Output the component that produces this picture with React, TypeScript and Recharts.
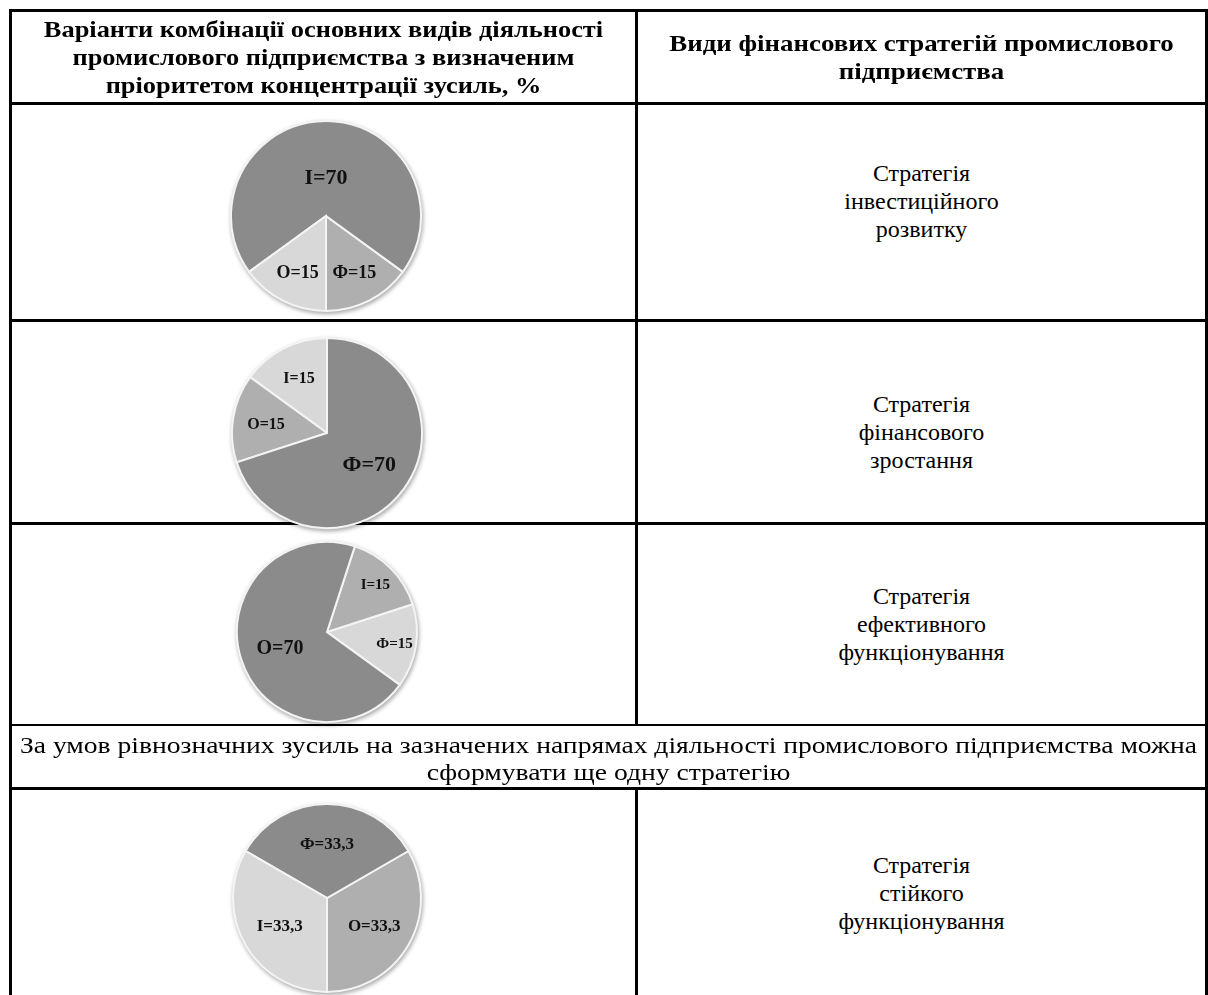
import React from 'react';
import { PieChart, Pie, Cell } from 'recharts';

// ---- data ----
const headerLeft = [
  'Варіанти комбінації основних видів діяльності',
  'промислового підприємства з визначеним',
  'пріоритетом концентрації зусиль, %',
];
const headerRight = ['Види фінансових стратегій промислового', 'підприємства'];

const pie1Names = ['Ф', 'І', 'О'];
const pie1Values = [15, 70, 15];
const pie2Names = ['І', 'О', 'Ф'];
const pie2Values = [15, 15, 70];
const pie3Names = ['Ф', 'І', 'О'];
const pie3Values = [15, 15, 70];
const pie4Names = ['О', 'Ф', 'І'];
const pie4Values = [33.3, 33.3, 33.3];

const strategy1 = ['Стратегія', 'інвестиційного', 'розвитку'];
const strategy2 = ['Стратегія', 'фінансового', 'зростання'];
const strategy3 = ['Стратегія', 'ефективного', 'функціонування'];
const strategy4 = ['Стратегія', 'стійкого', 'функціонування'];
const mergedText = [
  'За умов рівнозначних зусиль на зазначених напрямах діяльності промислового підприємства можна',
  'сформувати ще одну стратегію',
];

const toData = (names: string[], values: number[]) =>
  names.map((n, i) => ({ name: n, value: values[i] }));

// ---- styles ----
const SERIF = '"Liberation Serif", "Times New Roman", serif';
const DARK = '#8b8b8b';
const MID = '#afafaf';
const LIGHT = '#d8d8d8';

const pie1Colors = [MID, DARK, LIGHT];
const pie2Colors = [LIGHT, MID, DARK];
const pie3Colors = [LIGHT, MID, DARK];
const pie4Colors = [MID, DARK, LIGHT];

const Rule = ({ x, y, w, h }: { x: number; y: number; w: number; h: number }) => (
  <div style={{ position: 'absolute', left: x, top: y, width: w, height: h, background: '#000' }} />
);

const TextBlock = ({
  lines, left, width, centerY, bold, size, lh, sx = 1,
}: { lines: string[]; left: number; width: number; centerY: number; bold?: boolean; size: number; lh: number; sx?: number }) => (
  <div
    style={{
      position: 'absolute', left, width, top: centerY - (lines.length * lh) / 2,
      textAlign: 'center', fontFamily: SERIF, fontWeight: bold ? 700 : 400,
      fontSize: size, lineHeight: `${lh}px`, color: '#000', whiteSpace: 'nowrap',
      transform: `scaleX(${sx})`, transformOrigin: 'center',
    }}
  >
    {lines.map((l, i) => (<div key={i}>{l}</div>))}
  </div>
);

const RAD = Math.PI / 180;

function makeLabel(bigFactor: number, smallFactor: number, bigSize: number, smallSize: number) {
  return (props: any) => {
    const { cx, cy, midAngle, outerRadius, name, value, percent } = props;
    const big = percent > 0.5;
    const f = big ? bigFactor : smallFactor;
    const r = outerRadius * f;
    const x = cx + r * Math.cos(-midAngle * RAD);
    const y = cy + r * Math.sin(-midAngle * RAD);
    const txt = `${name}=${String(value).replace('.', ',')}`;
    return (
      <text x={x} y={y} textAnchor="middle" dominantBaseline="central"
        fontFamily={SERIF} fontWeight={700} fontSize={big ? bigSize : smallSize} fill="#111">
        {txt}
      </text>
    );
  };
}

const ChartPie = ({
  names, values, colors, cx, cy, r, start, label,
}: { names: string[]; values: number[]; colors: string[]; cx: number; cy: number; r: number; start: number; label: any }) => {
  const S = 230;
  return (
    <div style={{ position: 'absolute', left: cx - S / 2, top: cy - S / 2, width: S, height: S, filter: 'drop-shadow(1px 2px 2px rgba(0,0,0,0.35))' }}>
      <PieChart width={S} height={S}>
        <Pie
          data={toData(names, values)}
          dataKey="value"
          nameKey="name"
          cx={S / 2}
          cy={S / 2}
          outerRadius={r}
          startAngle={start}
          endAngle={start + 360}
          stroke="#f4f4f4"
          strokeWidth={2}
          label={label}
          labelLine={false}
          isAnimationActive={false}
        >
          {values.map((_, i) => (<Cell key={i} fill={colors[i]} />))}
        </Pie>
      </PieChart>
    </div>
  );
};

export default function App() {
  const L = 9, R = 1205, T = 9, MIDX = 635;
  return (
    <div style={{ position: 'absolute', left: 0, top: 0, width: 1208, height: 995, overflow: 'hidden', background: '#fff' }}>
      {/* borders */}
      <Rule x={L} y={T} w={1208 - L} h={3} />
      <Rule x={L} y={T} w={3} h={995 - T} />
      <Rule x={R} y={T} w={3} h={995 - T} />
      <Rule x={MIDX} y={T} w={3} h={724 - T} />
      <Rule x={MIDX} y={787} w={3} h={995 - 787} />
      <Rule x={L} y={102} w={1208 - L} h={3} />
      <Rule x={L} y={319} w={1208 - L} h={3} />
      <Rule x={L} y={522} w={1208 - L} h={3} />
      <Rule x={L} y={724} w={1208 - L} h={2} />
      <Rule x={L} y={787} w={1208 - L} h={3} />

      <TextBlock lines={headerLeft} left={12} width={623} centerY={57} bold size={24} lh={28} sx={1.1} />
      <TextBlock lines={headerRight} left={638} width={567} centerY={57} bold size={24} lh={28} sx={1.12} />

      <ChartPie names={pie1Names} values={pie1Values} colors={pie1Colors} cx={321} cy={211} r={95} start={-90}
        label={makeLabel(0.42, 0.66, 22, 18)} />
      <ChartPie names={pie2Names} values={pie2Values} colors={pie2Colors} cx={322} cy={428} r={95} start={90}
        label={makeLabel(0.55, 0.65, 22, 16)} />
      <ChartPie names={pie3Names} values={pie3Values} colors={pie3Colors} cx={322} cy={627} r={90} start={-36}
        label={makeLabel(0.55, 0.76, 20, 15)} />
      <ChartPie names={pie4Names} values={pie4Values} colors={pie4Colors} cx={322} cy={893} r={94} start={-90}
        label={makeLabel(0.55, 0.58, 20, 17)} />

      <TextBlock lines={strategy1} left={638} width={567} centerY={201} size={24} lh={28} />
      <TextBlock lines={strategy2} left={638} width={567} centerY={432} size={24} lh={28} />
      <TextBlock lines={strategy3} left={638} width={567} centerY={624} size={24} lh={28} />
      <TextBlock lines={mergedText} left={12} width={1193} centerY={759} size={23} lh={27} sx={1.2} />
      <TextBlock lines={strategy4} left={638} width={567} centerY={893} size={24} lh={28} />
    </div>
  );
}
